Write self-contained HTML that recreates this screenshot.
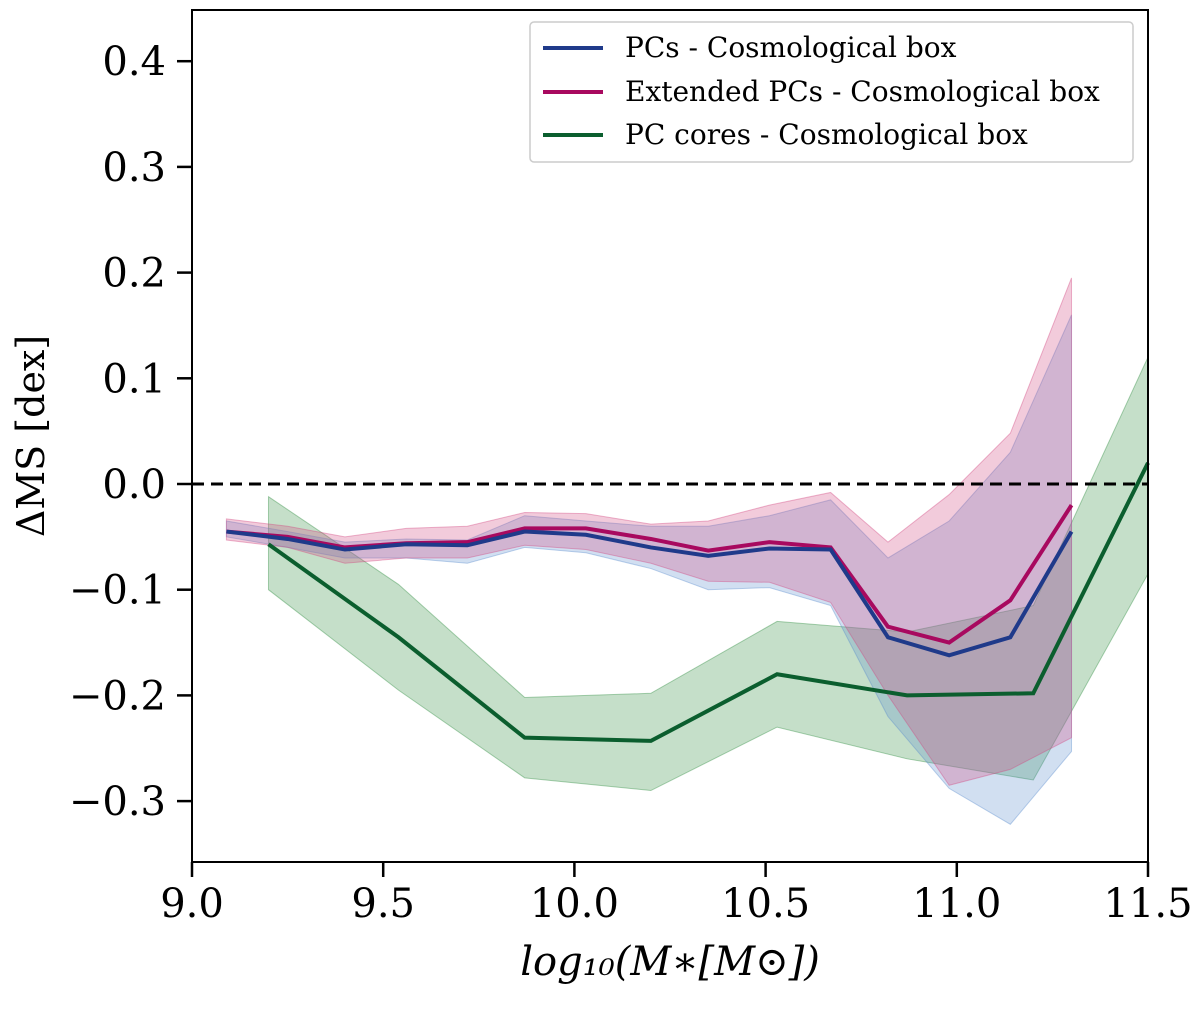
<!DOCTYPE html>
<html><head><meta charset="utf-8"><style>
body{margin:0;background:#fff}
svg text{font-family:"DejaVu Serif","Liberation Serif",serif}
</style></head><body>
<svg id="c" width="1200" height="1011" xmlns="http://www.w3.org/2000/svg"></svg>
<script>
const xs=[9.09,9.25,9.40,9.56,9.72,9.87,10.03,10.20,10.35,10.51,10.67,10.82,10.98,11.14,11.30];
const blue=[-0.045,-0.052,-0.062,-0.057,-0.058,-0.045,-0.048,-0.060,-0.068,-0.061,-0.062,-0.145,-0.162,-0.145,-0.045];
const blueHi=[-0.035,-0.045,-0.055,-0.052,-0.053,-0.030,-0.035,-0.040,-0.040,-0.030,-0.015,-0.070,-0.035,0.030,0.160];
const blueLo=[-0.050,-0.060,-0.070,-0.070,-0.075,-0.060,-0.065,-0.080,-0.100,-0.098,-0.115,-0.220,-0.288,-0.322,-0.253];
const mag=[-0.045,-0.050,-0.060,-0.056,-0.055,-0.042,-0.042,-0.052,-0.063,-0.055,-0.060,-0.135,-0.150,-0.110,-0.020];
const magHi=[-0.033,-0.040,-0.050,-0.042,-0.040,-0.027,-0.028,-0.038,-0.035,-0.020,-0.008,-0.055,-0.010,0.048,0.195];
const magLo=[-0.053,-0.060,-0.075,-0.070,-0.070,-0.058,-0.062,-0.075,-0.092,-0.093,-0.112,-0.200,-0.285,-0.270,-0.240];
const gx=[9.20,9.54,9.87,10.20,10.53,10.87,11.20,11.50];
const green=[-0.057,-0.145,-0.240,-0.243,-0.180,-0.200,-0.198,0.020];
const greenHi=[-0.012,-0.095,-0.202,-0.198,-0.130,-0.140,-0.115,0.120];
const greenLo=[-0.100,-0.195,-0.278,-0.290,-0.230,-0.260,-0.280,-0.085];
const xTicks=[9.0,9.5,10.0,10.5,11.0,11.5];
const yTicks=[0.4,0.3,0.2,0.1,0.0,-0.1,-0.2,-0.3];
const X=v=>192+(v-9)*382.4, Y=v=>484-v*1057;
const s=document.getElementById('c'),NS='http://www.w3.org/2000/svg';
function el(t,a,txt){const e=document.createElementNS(NS,t);for(const k in a)e.setAttribute(k,a[k]);if(txt!==undefined)e.textContent=txt;s.appendChild(e);return e;}
function band(x,hi,lo,col,name){const p=x.map((v,i)=>X(v)+','+Y(hi[i])).concat(x.map((v,i)=>X(v)+','+Y(lo[i])).reverse());
const e=el('polygon',{points:p.join(' '),fill:col,'fill-opacity':0.28,stroke:col,'stroke-opacity':0.4});
}
function line(x,y,col,name){const e=el('polyline',{points:x.map((v,i)=>X(v)+','+Y(y[i])).join(' '),fill:'none',stroke:col,'stroke-width':4});
}
band(gx,greenHi,greenLo,'#2e8b3e','pc-cores-band');
band(xs,blueHi,blueLo,'#5b8ccc','pcs-band');
band(xs,magHi,magLo,'#d1467f','extended-pcs-band');
let z=el('line',{x1:192,x2:1148,y1:Y(0),y2:Y(0),stroke:'#000','stroke-width':3,'stroke-dasharray':'12,7'});

line(gx,green,'#0b5e2e','pc-cores-line');
line(xs,mag,'#a8095f','extended-pcs-line');
line(xs,blue,'#1f3a8a','pcs-line');
let fr=el('rect',{x:192,y:10,width:956,height:852,fill:'none',stroke:'#000','stroke-width':2});

xTicks.forEach(v=>{el('line',{x1:X(v),x2:X(v),y1:862,y2:877,stroke:'#000','stroke-width':2.5});
const t=el('text',{x:X(v),y:917,'font-size':40,'text-anchor':'middle'},v.toFixed(1));
});
yTicks.forEach(v=>{el('line',{x1:177,x2:192,y1:Y(v),y2:Y(v),stroke:'#000','stroke-width':2.5});
const t=el('text',{x:166,y:Y(v)+14,'font-size':40,'text-anchor':'end'},(v<0?'\u2212':'')+Math.abs(v).toFixed(1));
});
let xt=el('text',{x:670,y:975,'font-size':40,'text-anchor':'middle','font-family':'DejaVu Sans,Liberation Sans,sans-serif'},'log\u2081\u2080(M\u2217[M\u2299])');
xt.setAttribute('font-style','italic');
let yt=el('text',{x:0,y:0,'font-size':38,'text-anchor':'middle',transform:'translate(44,436) rotate(-90)','font-family':'DejaVu Sans,Liberation Sans,sans-serif'},'ΔMS [dex]');

let lg=el('rect',{x:530,y:22,width:603,height:140,fill:'#fff',stroke:'#ccc','stroke-width':1.5,rx:4});

[['PCs - Cosmological box','#1f3a8a',48],['Extended PCs - Cosmological box','#a8095f',92],['PC cores - Cosmological box','#0b5e2e',135]].forEach(([n,c,y])=>{
el('line',{x1:543,x2:603,y1:y,y2:y,stroke:c,'stroke-width':4});
const t=el('text',{x:625,y:y+9,'font-size':28},n);
});
</script>
</body></html>
